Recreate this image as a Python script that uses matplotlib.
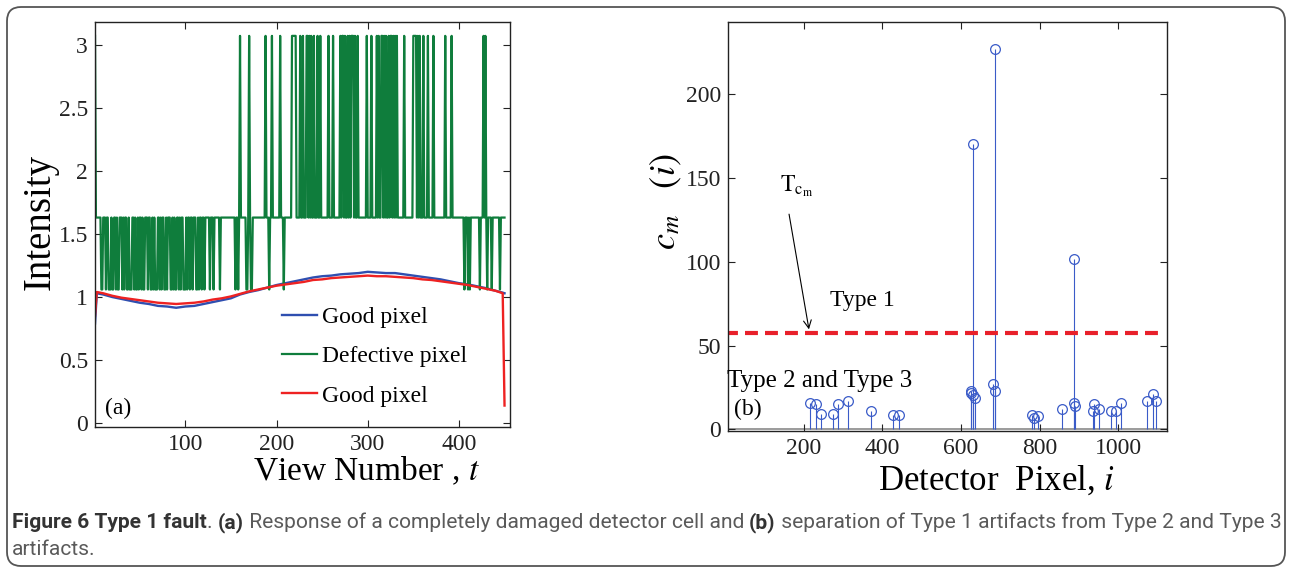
import numpy as np
import matplotlib.pyplot as plt
from matplotlib.patches import FancyBboxPatch

plt.rcParams['font.family'] = ['Liberation Serif', 'DejaVu Serif']
plt.rcParams['mathtext.fontset'] = 'stix'

# ---- panel (a): intensity vs view number ----
# defective pixel as runs of levels: L=low, M=mid, H=high, followed by run length (views)
defect_levels = {'L': 1.06, 'M': 1.63, 'H': 3.07}
defect_runs = (
    "H1 "
    "M6 L2 M3 L1 M2 L3 M1 L2 M2 L1 M1 L2 M3 L1 M1 L1 M2 L2 M1 L3 M2 L1 M1 L2 M1 L1 M2 L1 M1 L2 "
    "M3 L1 M2 L2 M1 L1 M1 L3 M2 L1 M1 L1 M2 L2 M1 L1 M3 L2 M1 L1 M1 L2 M2 L1 M1 L1 M2 L3 M1 L1 "
    "M2 L1 M2 L1 M3 L2 M1 L1 "
    "M2 L1 M2 L1 M5 L1 M3 L1 M6 L1 M16 L1 M2 L1 M1 H1 M6 L2 M1 H1 M1 L2 M2 "
    "M12 H1 M3 L1 M2 H1 M8 H1 M3 L1 M2 "
    "M6 H5 M4 H1 M2 H1 M3 H2 M1 H1 M1 H1 M2 H1 M3 H1 M2 H1 M8 H1 M4 H1 M7 "
    "H1 M1 H2 M1 H1 M2 H1 M1 H1 M1 H3 M1 H1 M2 H1 M1 "
    "M8 H1 M4 H1 M5 "
    "H1 M1 H1 M2 H2 M1 H1 M1 H1 M2 H1 M1 H2 M1 H1 M1 H1 M1 H1 "
    "M7 H1 M9 H4 M1 H1 M1 H1 M3 H1 M4 H1 M5 H1 M12 H1 M6 H1 M3 "
    "M10 L1 M3 L1 M1 L1 M10 L1 M3 H1 M1 H1 M1 L1 M4 L1 M8 L1 M5"
)

good_views = [1, 3, 10, 20, 30, 40, 50, 60, 70, 80, 90, 100, 110, 120, 130, 140, 150,
              160, 170, 180, 190, 200, 210, 220, 230, 240, 250, 260, 270, 280, 290, 300,
              310, 320, 330, 340, 350, 360, 370, 380, 390, 400, 410, 420, 430, 440, 448, 450]
good_blue = [0.79, 1.03, 1.02, 1.00, 0.985, 0.97, 0.955, 0.945, 0.93, 0.925, 0.915, 0.925,
             0.93, 0.945, 0.96, 0.975, 0.99, 1.02, 1.04, 1.055, 1.075, 1.095, 1.11, 1.125,
             1.14, 1.155, 1.165, 1.17, 1.18, 1.185, 1.19, 1.20, 1.195, 1.19, 1.19, 1.18,
             1.17, 1.16, 1.15, 1.14, 1.125, 1.11, 1.10, 1.085, 1.07, 1.05, 1.035, 1.03]
good_red = [0.85, 1.04, 1.03, 1.01, 0.995, 0.985, 0.975, 0.965, 0.955, 0.95, 0.945, 0.95,
            0.955, 0.965, 0.98, 0.99, 1.005, 1.025, 1.045, 1.06, 1.075, 1.09, 1.10, 1.11,
            1.12, 1.135, 1.14, 1.15, 1.155, 1.16, 1.165, 1.17, 1.165, 1.165, 1.16, 1.155,
            1.15, 1.14, 1.135, 1.125, 1.115, 1.105, 1.095, 1.08, 1.065, 1.05, 1.03, 0.14]

# ---- panel (b): c_m(i) per detector pixel ----
stem_x = [216, 231, 244, 274, 287, 314, 371, 428, 442, 625, 627, 630, 630, 635, 682, 686,
          688, 782, 785, 795, 856, 887, 888, 891, 936, 938, 950, 982, 995, 1008, 1073, 1089, 1096]
stem_y = [15.7, 14.9, 8.9, 8.9, 15.1, 16.9, 10.7, 8.7, 8.7, 23, 21.4, 170, 20.2, 18.5, 26.8,
          227, 22.8, 8.3, 6.7, 7.7, 11.9, 101.8, 15.9, 13.7, 10.7, 15.3, 11.9, 10.7, 10.7,
          15.9, 16.9, 21.2, 16.9]
threshold = 57.5
threshold_span = [1, 1104]

# expand the run-length string
defect = []
for tok in defect_runs.split():
    defect += [defect_levels[tok[0]]] * int(tok[1:])
defect = np.array(defect)
views = np.arange(1, len(defect) + 1)

fig = plt.figure(figsize=(12.91, 5.74), dpi=100)
W, H = 1291, 574

# outer rounded frame
fig.patches.append(FancyBboxPatch((0.07, 0.08), 12.78, 5.59,
                                  boxstyle='round,pad=0,rounding_size=0.14',
                                  transform=fig.dpi_scale_trans, fill=False,
                                  edgecolor='#555555', lw=1.3))

ax1 = fig.add_axes([95 / W, 1 - 427 / H, 415 / W, 405 / H])
ax2 = fig.add_axes([728 / W, 1 - 431 / H, 439 / W, 409 / H])

ax1.plot(good_views, good_blue, color='#2f4fb0', lw=1.7, label='Good pixel')
ax1.plot(views, defect, color='#0f7d3c', lw=1.6, label='Defective pixel')
ax1.plot(good_views, good_red, color='#ee2222', lw=1.7, label='Good pixel')
ax1.set_xlim(1, 456)
ax1.set_ylim(-0.03, 3.18)
ax1.set_xticks([100, 200, 300, 400])
ax1.set_yticks([0, 0.5, 1, 1.5, 2, 2.5, 3])
ax1.set_yticklabels(['0', '0.5', '1', '1.5', '2', '2.5', '3'])
ax1.set_xlabel('View Number , $t$', fontsize=24)
ax1.xaxis.set_label_coords(0.653, -0.068)
ax1.set_ylabel('Intensity', fontsize=28)
ax1.yaxis.set_label_coords(-0.088, 0.506)
ax1.legend(loc='upper left', bbox_to_anchor=(0.45, 0.297), frameon=False, fontsize=17,
           handlelength=1.5, handletextpad=0.2, labelspacing=0.75, borderaxespad=0,
           borderpad=0)
ax1.text(12, 0.115, '(a)', fontsize=17, va='center')

ml, sl, bl = ax2.stem(stem_x, stem_y, linefmt='-', markerfmt='o', basefmt=' ')
plt.setp(sl, color='#3a5bc8', lw=0.8)
plt.setp(ml, markerfacecolor='none', markeredgecolor='#3a5bc8', markersize=7, mew=0.9)
ax2.axhline(0, color='#8a8a8a', lw=1.2, zorder=1)
ax2.plot(threshold_span, [threshold, threshold], color='#e8202a', lw=3,
         linestyle=(0, (3.1, 1.7)))
ax2.set_xlim(8, 1124)
ax2.set_ylim(-1, 243)
ax2.set_xticks([200, 400, 600, 800, 1000])
ax2.set_yticks([0, 50, 100, 150, 200])
ax2.set_xlabel('Detector  Pixel, $i$', fontsize=25)
ax2.xaxis.set_label_coords(0.612, -0.08)
ax2.set_ylabel('$c_m\\ \\ \\ (i)$', fontsize=26)
ax2.yaxis.set_label_coords(-0.1, 0.56)
ax2.annotate('', xy=(215, 58), xytext=(162, 130),
             arrowprops=dict(arrowstyle='->', color='k', lw=0.8, mutation_scale=14))
ax2.text(182, 145, '$\\mathrm{T}_{\\mathrm{c}_{\\mathrm{m}}}$', fontsize=17, ha='center',
         va='center')
ax2.text(268, 77, 'Type 1', fontsize=17, va='center')
ax2.text(6, 29, 'Type 2 and Type 3', fontsize=18, va='center')
ax2.text(24, 12, '(b)', fontsize=17, va='center')

for ax in (ax1, ax2):
    ax.tick_params(direction='in', top=True, right=True, labelsize=17, length=5,
                   width=0.8, pad=5, colors='#222222')
    for s in ax.spines.values():
        s.set_linewidth(1.0)
        s.set_color('#222222')

# caption, laid out piece by piece
renderer = fig.canvas.get_renderer()
line1 = [('Figure 6 Type 1 fault', 'bold'), ('. ', 'normal'), ('(a)', 'bold'),
         (' Response of a completely damaged detector cell and ', 'normal'), ('(b)', 'bold'),
         (' separation of Type 1 artifacts from Type 2 and Type 3', 'normal')]
line2 = [('artifacts.', 'normal')]


def place(pieces, x0, y0, size):
    x = x0
    objs = []
    for s, w in pieces:
        t = fig.text(x / W, 1 - y0 / H, s, fontsize=size, fontweight=w, family='Roboto',
                     color='#333333' if w == 'bold' else '#5a5a5a', va='baseline')
        x = t.get_window_extent(renderer).x1
        objs.append(t)
    return x, objs


end, tmp = place(line1, 12, 528, 10)
for t in tmp:
    t.remove()
cap_size = 10 * (1282 - 12) / (end - 12)
place(line1, 12, 528, cap_size)
place(line2, 12, 555, cap_size)

fig.savefig('out.png', dpi=100)
